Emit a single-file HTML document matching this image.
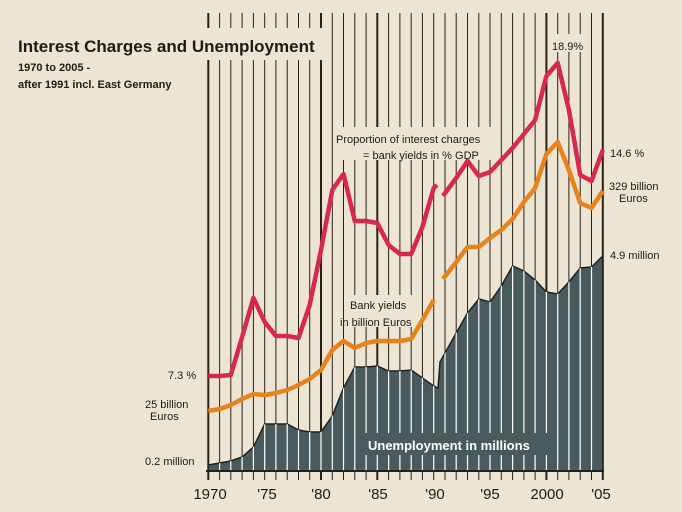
<!DOCTYPE html>
<html><head><meta charset="utf-8"><style>
html,body{margin:0;padding:0;background:#ede5d3;}
svg{display:block;font-family:"Liberation Sans",Arial,sans-serif;}
</style></head><body>
<svg width="682" height="512" viewBox="0 0 682 512" xmlns="http://www.w3.org/2000/svg">
<rect width="682" height="512" fill="#ede5d3"/>
<defs>
<clipPath id="ua"><polygon points="208.3,471 208.3,465 219.6,463 230.8,461 242.1,457 253.4,447 264.7,424 275.9,424 287.2,424 298.5,430 309.7,432 321,432 332.3,416 343.5,388 354.8,367 366.1,367 377.3,366 388.6,371 399.9,371 411.2,370 422.4,378 433.7,386 438,388 440,362 456.2,333 467.5,313 478.8,299 490,302 501.3,286 512.6,266 523.9,271 535.1,280 546.4,292 557.7,294 568.9,282 580.2,268 591.5,267 602.8,256 602.8,471"/></clipPath>
</defs>
<g id="vl" stroke="#2a2018">
<script>/*static*/</script>
</g>
<g stroke="#2a2018">
<line x1="208.3" y1="13" x2="208.3" y2="480" stroke-width="2"/>
<line x1="219.6" y1="13" x2="219.6" y2="480" stroke-width="1"/>
<line x1="230.8" y1="13" x2="230.8" y2="480" stroke-width="1"/>
<line x1="242.1" y1="13" x2="242.1" y2="480" stroke-width="1"/>
<line x1="253.4" y1="13" x2="253.4" y2="480" stroke-width="1"/>
<line x1="264.7" y1="13" x2="264.7" y2="480" stroke-width="1"/>
<line x1="275.9" y1="13" x2="275.9" y2="480" stroke-width="1"/>
<line x1="287.2" y1="13" x2="287.2" y2="480" stroke-width="1"/>
<line x1="298.5" y1="13" x2="298.5" y2="480" stroke-width="1"/>
<line x1="309.7" y1="13" x2="309.7" y2="480" stroke-width="1"/>
<line x1="321" y1="13" x2="321" y2="480" stroke-width="2"/>
<line x1="332.3" y1="13" x2="332.3" y2="480" stroke-width="1"/>
<line x1="343.5" y1="13" x2="343.5" y2="480" stroke-width="1"/>
<line x1="354.8" y1="13" x2="354.8" y2="480" stroke-width="1"/>
<line x1="366.1" y1="13" x2="366.1" y2="480" stroke-width="1"/>
<line x1="377.3" y1="13" x2="377.3" y2="480" stroke-width="2"/>
<line x1="388.6" y1="13" x2="388.6" y2="480" stroke-width="1"/>
<line x1="399.9" y1="13" x2="399.9" y2="480" stroke-width="1"/>
<line x1="411.2" y1="13" x2="411.2" y2="480" stroke-width="1"/>
<line x1="422.4" y1="13" x2="422.4" y2="480" stroke-width="1"/>
<line x1="433.7" y1="13" x2="433.7" y2="480" stroke-width="1"/>
<line x1="445" y1="13" x2="445" y2="480" stroke-width="1"/>
<line x1="456.2" y1="13" x2="456.2" y2="480" stroke-width="1"/>
<line x1="467.5" y1="13" x2="467.5" y2="480" stroke-width="1"/>
<line x1="478.8" y1="13" x2="478.8" y2="480" stroke-width="1"/>
<line x1="490" y1="13" x2="490" y2="480" stroke-width="1"/>
<line x1="501.3" y1="13" x2="501.3" y2="480" stroke-width="1"/>
<line x1="512.6" y1="13" x2="512.6" y2="480" stroke-width="1"/>
<line x1="523.9" y1="13" x2="523.9" y2="480" stroke-width="1"/>
<line x1="535.1" y1="13" x2="535.1" y2="480" stroke-width="1"/>
<line x1="546.4" y1="13" x2="546.4" y2="480" stroke-width="2"/>
<line x1="557.7" y1="13" x2="557.7" y2="480" stroke-width="1"/>
<line x1="568.9" y1="13" x2="568.9" y2="480" stroke-width="1"/>
<line x1="580.2" y1="13" x2="580.2" y2="480" stroke-width="1"/>
<line x1="591.5" y1="13" x2="591.5" y2="480" stroke-width="1"/>
<line x1="602.8" y1="13" x2="602.8" y2="480" stroke-width="2"/>
</g>
<!-- label backgrounds -->
<g fill="#ede5d3">
<rect x="200" y="28" width="125" height="32"/>
<rect x="333" y="127" width="167" height="33"/>
<rect x="344" y="295" width="76" height="32"/>
<rect x="548" y="34" width="38" height="18"/>
</g>
<!-- unemployment area -->
<polygon points="208.3,471 208.3,465 219.6,463 230.8,461 242.1,457 253.4,447 264.7,424 275.9,424 287.2,424 298.5,430 309.7,432 321,432 332.3,416 343.5,388 354.8,367 366.1,367 377.3,366 388.6,371 399.9,371 411.2,370 422.4,378 433.7,386 438,388 440,362 456.2,333 467.5,313 478.8,299 490,302 501.3,286 512.6,266 523.9,271 535.1,280 546.4,292 557.7,294 568.9,282 580.2,268 591.5,267 602.8,256 602.8,471" fill="#485a5c" stroke="#1e2222" stroke-width="1.5"/>
<g clip-path="url(#ua)" stroke="#ffffff" stroke-width="1.2">
<line x1="219.6" y1="200" x2="219.6" y2="480"/><line x1="230.8" y1="200" x2="230.8" y2="480"/><line x1="242.1" y1="200" x2="242.1" y2="480"/><line x1="253.4" y1="200" x2="253.4" y2="480"/><line x1="264.7" y1="200" x2="264.7" y2="480"/><line x1="275.9" y1="200" x2="275.9" y2="480"/><line x1="287.2" y1="200" x2="287.2" y2="480"/><line x1="298.5" y1="200" x2="298.5" y2="480"/><line x1="309.7" y1="200" x2="309.7" y2="480"/><line x1="321" y1="200" x2="321" y2="480"/><line x1="332.3" y1="200" x2="332.3" y2="480"/><line x1="343.5" y1="200" x2="343.5" y2="480"/><line x1="354.8" y1="200" x2="354.8" y2="480"/><line x1="366.1" y1="200" x2="366.1" y2="480"/><line x1="377.3" y1="200" x2="377.3" y2="480"/><line x1="388.6" y1="200" x2="388.6" y2="480"/><line x1="399.9" y1="200" x2="399.9" y2="480"/><line x1="411.2" y1="200" x2="411.2" y2="480"/><line x1="422.4" y1="200" x2="422.4" y2="480"/><line x1="433.7" y1="200" x2="433.7" y2="480"/><line x1="445" y1="200" x2="445" y2="480"/><line x1="456.2" y1="200" x2="456.2" y2="480"/><line x1="467.5" y1="200" x2="467.5" y2="480"/><line x1="478.8" y1="200" x2="478.8" y2="480"/><line x1="490" y1="200" x2="490" y2="480"/><line x1="501.3" y1="200" x2="501.3" y2="480"/><line x1="512.6" y1="200" x2="512.6" y2="480"/><line x1="523.9" y1="200" x2="523.9" y2="480"/><line x1="535.1" y1="200" x2="535.1" y2="480"/><line x1="546.4" y1="200" x2="546.4" y2="480"/><line x1="557.7" y1="200" x2="557.7" y2="480"/><line x1="568.9" y1="200" x2="568.9" y2="480"/><line x1="580.2" y1="200" x2="580.2" y2="480"/><line x1="591.5" y1="200" x2="591.5" y2="480"/>
</g>
<rect x="362" y="433" width="186" height="22" fill="#485a5c"/>
<line x1="206" y1="471" x2="604" y2="471" stroke="#1e2222" stroke-width="2"/>
<!-- red -->
<polyline fill="none" stroke="#d8284c" stroke-width="4.5" stroke-linejoin="round" points="208.3,376 219.6,376 230.8,375 242.1,337 253.4,298 264.7,322 275.9,336 287.2,336 298.5,338 309.7,305 321,250 332.3,190 343.5,174 354.8,221 366.1,221 377.3,223 388.6,245 399.9,254 411.2,254 422.4,227 433.7,188 437,185"/>
<polyline fill="none" stroke="#d8284c" stroke-width="4.5" stroke-linejoin="round" points="443,196 456.2,178 467.5,161 478.8,176 490,172 501.3,160 512.6,148 523.9,134 535.1,120 546.4,76 557.7,63 568.9,110 580.2,175 591.5,181 602.8,150"/>
<!-- orange -->
<polyline fill="none" stroke="#e8821c" stroke-width="4.5" stroke-linejoin="round" points="208.3,411 219.6,409 230.8,405 242.1,399 253.4,394 264.7,395 275.9,393 287.2,390 298.5,385 309.7,379 321,370 332.3,350 343.5,341 354.8,348 366.1,343 377.3,341 388.6,341 399.9,341 411.2,339 422.4,320 433.7,300"/>
<polyline fill="none" stroke="#e8821c" stroke-width="4.5" stroke-linejoin="round" points="443,279 456.2,262 467.5,247 478.8,247 490,238 501.3,230 512.6,219 523.9,202 535.1,188 546.4,154 557.7,142 568.9,170 580.2,203 591.5,208 602.8,191"/>
<!-- texts -->
<g fill="#1e1a16">
<text x="18" y="52" font-size="17" font-weight="bold">Interest Charges and Unemployment</text>
<text x="18" y="71" font-size="11" font-weight="bold">1970 to  2005  -</text>
<text x="18" y="88" font-size="11" font-weight="bold">after 1991 incl. East Germany</text>
<text x="336" y="143" font-size="11">Proportion of interest charges</text>
<text x="363" y="159" font-size="11">= bank yields in % GDP</text>
<text x="350" y="309" font-size="11">Bank yields</text>
<text x="340" y="326" font-size="11">in billion Euros</text>
<text x="552" y="50" font-size="11">18.9%</text>
<text x="610" y="157" font-size="11">14.6 %</text>
<text x="609" y="190" font-size="11">329 billion</text>
<text x="619" y="202" font-size="11">Euros</text>
<text x="610" y="259" font-size="11">4.9 million</text>
<text x="168" y="379" font-size="11">7.3 %</text>
<text x="145" y="408" font-size="11">25 billion</text>
<text x="150" y="420" font-size="11">Euros</text>
<text x="145" y="465" font-size="11">0.2 million</text>
<g font-size="15" text-anchor="middle">
<text x="210" y="499">1970</text><text x="267" y="499">'75</text><text x="321" y="499">'80</text><text x="378" y="499">'85</text><text x="435" y="499">'90</text><text x="490" y="499">'95</text><text x="547" y="499">2000</text><text x="601" y="499">'05</text>
</g>
</g>
<text x="368" y="450" font-size="13" font-weight="bold" fill="#ffffff">Unemployment in millions</text>
</svg>
</body></html>
